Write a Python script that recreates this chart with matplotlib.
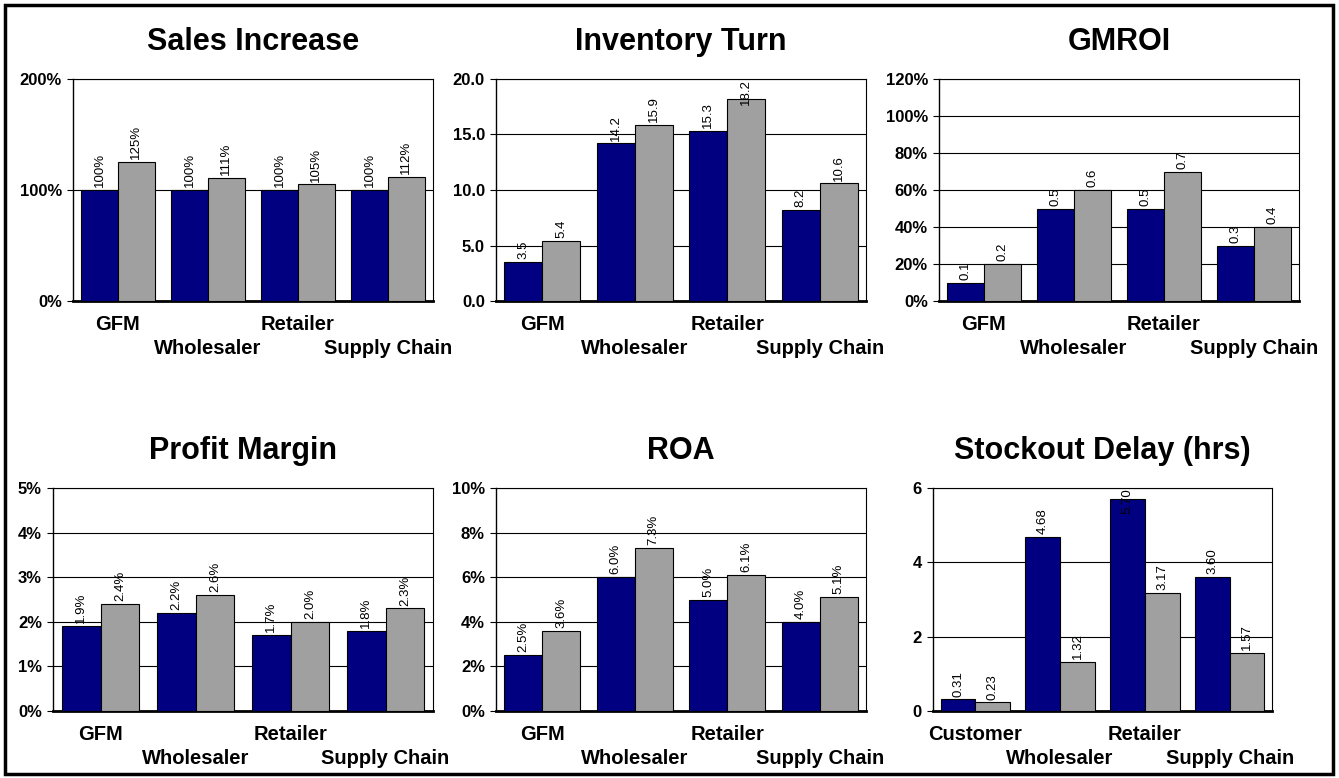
import matplotlib.pyplot as plt
from matplotlib.patches import Rectangle
from matplotlib.ticker import FuncFormatter
from matplotlib.transforms import offset_copy, blended_transform_factory

plt.rcParams['font.family'] = ['Liberation Sans', 'DejaVu Sans']

# data
groups = ["GFM", "Wholesaler", "Retailer", "Supply Chain"]
stockout_groups = ["Customer", "Wholesaler", "Retailer", "Supply Chain"]

sales_before = [100, 100, 100, 100]
sales_after = [125, 111, 105, 112]

turn_before = [3.5, 14.2, 15.3, 8.2]
turn_after = [5.4, 15.9, 18.2, 10.6]

gmroi_before = [0.1, 0.5, 0.5, 0.3]
gmroi_after = [0.2, 0.6, 0.7, 0.4]

margin_before = [1.9, 2.2, 1.7, 1.8]
margin_after = [2.4, 2.6, 2.0, 2.3]

roa_before = [2.5, 6.0, 5.0, 4.0]
roa_after = [3.6, 7.3, 6.1, 5.1]

delay_before = [0.31, 4.68, 5.70, 3.60]
delay_after = [0.23, 1.32, 3.17, 1.57]

NAVY = "#000080"
GRAY = "#a0a0a0"
W, H = 1339, 778

value_labels = []  # (axes, text) pairs, pushed down later if they stick out


def panel(rect_px, title, cats, before, after, ymax, ystep, tick_fmt, lab_fmt):
    x0, y0, x1, y1 = rect_px
    ax = fig.add_axes([x0 / W, 1 - y1 / H, (x1 - x0) / W, (y1 - y0) / H])
    xs = list(range(len(cats)))
    bw = 0.41
    b1 = ax.bar([x - bw / 2 for x in xs], before, bw, color=NAVY,
                edgecolor="black", linewidth=0.8, zorder=3)
    b2 = ax.bar([x + bw / 2 for x in xs], after, bw, color=GRAY,
                edgecolor="black", linewidth=0.8, zorder=3)
    lift = offset_copy(ax.transData, fig=fig, y=2, units="points")
    for bars, vals in ((b1, before), (b2, after)):
        for bar, v in zip(bars, vals):
            t = ax.text(bar.get_x() + bar.get_width() / 2, v, lab_fmt(v),
                        transform=lift, rotation=90, ha="center", va="bottom",
                        fontsize=9.5, zorder=4, clip_on=True)
            value_labels.append((ax, t))
    ax.set_xlim(-0.5, len(cats) - 0.5)
    ax.set_ylim(0, ymax)
    ticks = []
    t = 0
    while t <= ymax + 1e-9:
        ticks.append(t)
        t += ystep
    ax.set_yticks(ticks)
    ax.yaxis.set_major_formatter(FuncFormatter(lambda v, p: tick_fmt(v)))
    ax.yaxis.grid(True, color="black", linewidth=0.8, zorder=0)
    ax.tick_params(axis="y", length=4, width=0.8, pad=4, labelsize=12)
    for lab in ax.get_yticklabels():
        lab.set_fontweight("bold")

    # staggered category names on two rows
    ax.set_xticks([])
    base = blended_transform_factory(ax.transData, ax.transAxes)
    for i, c in enumerate(cats):
        drop = 23 if i % 2 == 0 else 47
        tr = offset_copy(base, fig=fig, y=-drop, units="dots")
        ax.text(i, 0, c, transform=tr, ha="center", va="center",
                fontsize=14.5, fontweight="bold")

    ax.spines["bottom"].set_linewidth(2)
    ax.spines["left"].set_linewidth(1)
    ax.spines["top"].set_linewidth(0.8)
    ax.spines["right"].set_linewidth(0.8)
    ax.set_title(title, fontsize=22, fontweight="bold", pad=21)
    return ax


fig = plt.figure(figsize=(W / 100, H / 100), dpi=100)

panel((73, 79, 433, 301), "Sales Increase", groups, sales_before, sales_after,
      200, 100, lambda v: f"{v:.0f}%", lambda v: f"{v:.0f}%")
panel((496, 79, 866, 301), "Inventory Turn", groups, turn_before, turn_after,
      20, 5, lambda v: f"{v:.1f}", lambda v: f"{v:.1f}")
panel((939, 79, 1299, 301), "GMROI", groups, gmroi_before, gmroi_after,
      1.2, 0.2, lambda v: f"{v * 100:.0f}%", lambda v: f"{v:.1f}")
panel((53, 488, 433, 711), "Profit Margin", groups, margin_before, margin_after,
      5, 1, lambda v: f"{v:.0f}%", lambda v: f"{v:.1f}%")
panel((496, 488, 866, 711), "ROA", groups, roa_before, roa_after,
      10, 2, lambda v: f"{v:.0f}%", lambda v: f"{v:.1f}%")
panel((933, 488, 1272, 711), "Stockout Delay (hrs)", stockout_groups,
      delay_before, delay_after, 6, 2, lambda v: f"{v:.0f}", lambda v: f"{v:.2f}")

# like Excel, keep value labels inside the plot area
renderer = fig.canvas.get_renderer()
for ax, t in value_labels:
    if t.get_window_extent(renderer).y1 > ax.get_window_extent(renderer).y1:
        t.set_transform(ax.transData)
        t.set_y(ax.get_ylim()[1])
        t.set_va("top")

fig.patches.append(Rectangle((5 / W, 4 / H), 1328 / W, 769 / H,
                             transform=fig.transFigure, fill=False,
                             edgecolor="black", linewidth=2.5))

fig.savefig("out.png", dpi=100)
